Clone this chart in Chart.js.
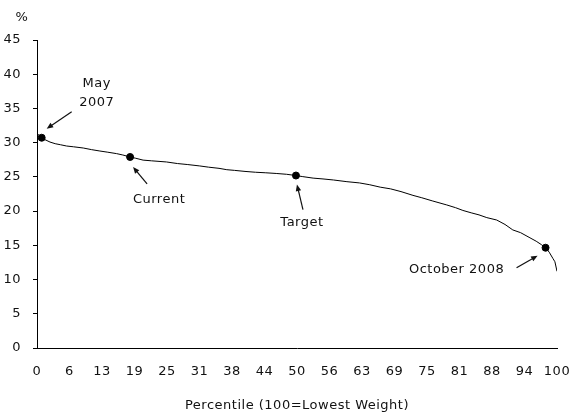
<!DOCTYPE html>
<html>
<head>
<meta charset="utf-8">
<script src="https://cdn.jsdelivr.net/npm/chart.js@4/dist/chart.umd.min.js"></script>
<style>
  html, body { margin: 0; padding: 0; background: #fff; }
</style>
</head>
<body>
<canvas id="weight-chart" width="572" height="414"></canvas>
<script>
/* percentile curve */
const percentiles = [0, 0.5, 0.9, 1.5, 2.5, 3.5, 4.5, 5.7, 7, 8.9, 10.5, 12.1, 13.5, 15.3, 16.5, 17.9, 19, 20.4, 22, 24.9,
  27, 29, 31.3, 33, 35, 36.5, 38, 40, 42, 44, 46, 48, 49.8, 51, 53.1, 55, 57, 59.6, 62, 64,
  66, 68, 70, 72.3, 74, 76, 78.8, 80.5, 81.9, 83.5, 85, 86.5, 88.4, 90, 91.5, 93, 94.8, 96, 97, 97.8,
  98.5, 99.2, 99.6, 100];
const weights = [31.35, 31.0, 30.72, 30.45, 30.09, 29.85, 29.7, 29.51, 29.4, 29.22, 28.98, 28.78, 28.62, 28.4, 28.2, 27.91, 27.72, 27.45, 27.35, 27.18,
  26.95, 26.8, 26.6, 26.42, 26.25, 26.05, 25.95, 25.8, 25.68, 25.6, 25.5, 25.38, 25.2, 25.05, 24.82, 24.7, 24.55, 24.3, 24.12, 23.85,
  23.5, 23.25, 22.85, 22.3, 21.95, 21.5, 20.9, 20.5, 20.1, 19.75, 19.45, 19.05, 18.7, 18.05, 17.25, 16.85, 16.1, 15.6, 15.1, 14.65,
  14.0, 13.1, 12.6, 11.2];

/* marked dates */
const eventNames = [['May', '2007'], ['Current'], ['Target'], ['October 2008']];
const eventX = [0.9, 17.9, 49.8, 97.8];
const eventY = [30.72, 27.91, 25.2, 14.65];

const tickValues = [0, 6.25, 12.5, 18.75, 25, 31.25, 37.5, 43.75, 50, 56.25, 62.5, 68.75, 75, 81.25, 87.5, 93.75, 100];
const tickLabels = ['0', '6', '13', '19', '25', '31', '38', '44', '50', '56', '63', '69', '75', '81', '88', '94', '100'];

const FONT = { family: 'DejaVu Sans', size: 13 };
const INK = '#111';

// text + arrow offsets from each marker, in px: [textX, textY, tailX, tailY, headX, headY]
const notes = [
  [55, -45, 30, -26, 5, -9],
  [29, 43, 17, 27, 3, 10],
  [6, 47, 7, 34, 1, 9],
  [-89, 22, -29, 20, -8, 8]
];

function arrow(ctx, x1, y1, x2, y2) {
  const a = Math.atan2(y2 - y1, x2 - x1);
  ctx.beginPath();
  ctx.moveTo(x1, y1);
  ctx.lineTo(x2 - 4 * Math.cos(a), y2 - 4 * Math.sin(a));
  ctx.stroke();
  ctx.beginPath();
  ctx.moveTo(x2, y2);
  ctx.lineTo(x2 - 7 * Math.cos(a - 0.4), y2 - 7 * Math.sin(a - 0.4));
  ctx.lineTo(x2 - 7 * Math.cos(a + 0.4), y2 - 7 * Math.sin(a + 0.4));
  ctx.closePath();
  ctx.fill();
}

const notesPlugin = {
  id: 'notes',
  beforeUpdate(chart) {
    chart.ctx.letterSpacing = '0.5px';
  },
  afterDatasetsDraw(chart) {
    const ctx = chart.ctx;
    const x = chart.scales.x, y = chart.scales.y;
    ctx.save();
    ctx.letterSpacing = '0.5px';
    ctx.font = FONT.size + 'px ' + FONT.family;
    ctx.fillStyle = INK;
    ctx.strokeStyle = INK;
    ctx.lineWidth = 1.2;
    ctx.textAlign = 'center';
    ctx.textBaseline = 'middle';
    eventNames.forEach((lines, i) => {
      const px = x.getPixelForValue(eventX[i]);
      const py = y.getPixelForValue(eventY[i]);
      const n = notes[i];
      lines.forEach((t, j) => {
        ctx.fillText(t, px + n[0], py + n[1] + (j - (lines.length - 1) / 2) * 19);
      });
      arrow(ctx, px + n[2], py + n[3], px + n[4], py + n[5]);
    });
    // unit label
    ctx.fillText('%', y.right - 15, chart.chartArea.top - 22);
    ctx.restore();
  }
};

const config = {
  type: 'line',
  data: {
    datasets: [
      {
        data: percentiles.map((p, i) => ({ x: p, y: weights[i] })),
        borderColor: '#000',
        borderWidth: 1,
        pointRadius: 0,
        tension: 0
      },
      {
        data: eventX.map((p, i) => ({ x: p, y: eventY[i] })),
        showLine: false,
        pointRadius: 3.5,
        pointBackgroundColor: '#000',
        pointBorderColor: '#000'
      }
    ]
  },
  options: {
    responsive: false,
    animation: false,
    layout: { padding: { top: 40, right: 15, left: 0, bottom: 0 } },
    plugins: {
      legend: { display: false },
      tooltip: { enabled: false }
    },
    scales: {
      x: {
        type: 'linear',
        min: 0,
        max: 100,
        afterBuildTicks: (s) => { s.ticks = tickValues.map(v => ({ value: v })); },
        afterFit: (s) => { s.height = 66; s.paddingLeft = 0; s.paddingRight = 0; },
        grid: { display: true, drawOnChartArea: false, drawTicks: false },
        border: { display: true, color: '#000', width: 1 },
        ticks: {
          color: INK,
          font: FONT,
          padding: 16,
          maxRotation: 0,
          autoSkip: false,
          callback: (v, i) => tickLabels[i]
        },
        title: {
          display: true,
          text: 'Percentile (100=Lowest Weight)',
          color: INK,
          font: FONT,
          padding: { top: 4, bottom: 1 }
        }
      },
      y: {
        min: 0,
        max: 45,
        afterFit: (s) => { s.width = 37; },
        grid: { drawOnChartArea: false, drawTicks: true, tickLength: 4, color: '#000' },
        border: { display: true, color: '#000', width: 1 },
        ticks: { stepSize: 5, color: INK, font: FONT, padding: 12 }
      }
    }
  },
  plugins: [notesPlugin]
};

const weightChart = new Chart(document.getElementById('weight-chart'), config);
</script>
</body>
</html>
